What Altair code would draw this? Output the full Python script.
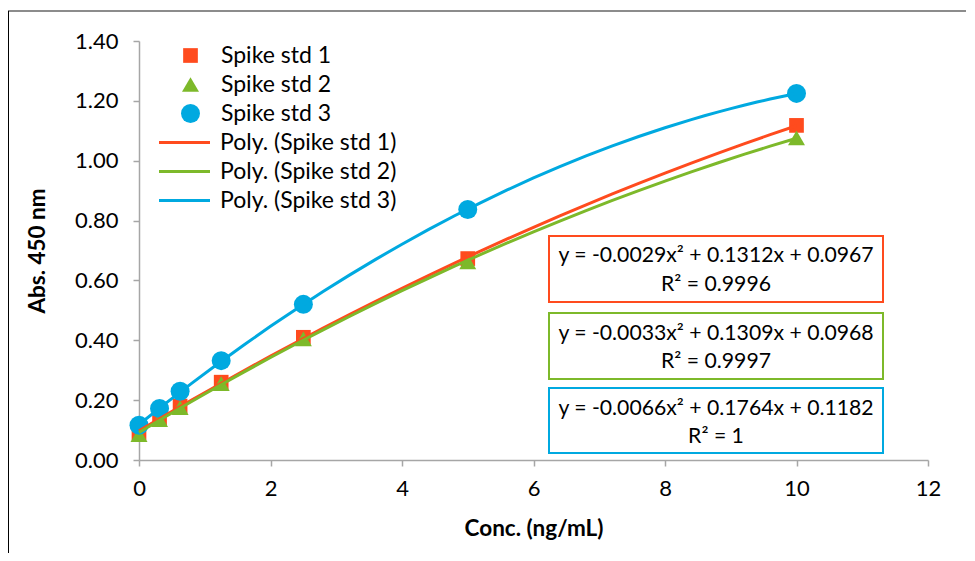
import altair as alt
import pandas as pd

conc = [0, 0.3125, 0.625, 1.25, 2.5, 5, 10]
std1 = [0.090, 0.140, 0.180, 0.260, 0.410, 0.673, 1.118]
std2 = [0.085, 0.135, 0.175, 0.255, 0.405, 0.662, 1.076]
std3 = [0.116, 0.172, 0.230, 0.332, 0.520, 0.837, 1.225]

series = ["Spike std 1", "Spike std 2", "Spike std 3"]
polys = ["Poly. (Spike std 1)", "Poly. (Spike std 2)", "Poly. (Spike std 3)"]
colors = ["#FF4B1E", "#7DB92A", "#00A9E0"]
shapes = ["square", "triangle-up", "circle"]
sizes = [216, 361, 400]

equations = [
    "y = -0.0029x² + 0.1312x + 0.0967",
    "y = -0.0033x² + 0.1309x + 0.0968",
    "y = -0.0066x² + 0.1764x + 0.1182",
]
r2_texts = ["R² = 0.9996", "R² = 0.9997", "R² = 1"]

x_ticks = [0, 2, 4, 6, 8, 10, 12]
y_ticks = [0, 0.2, 0.4, 0.6, 0.8, 1.0, 1.2, 1.4]

rows = []
for s, vals in zip(series, [std1, std2, std3]):
    for c, v in zip(conc, vals):
        rows.append({"series": s, "conc": c, "abs": v})
df = pd.DataFrame(rows)

FONT = "Lato"

xenc = alt.X("conc:Q", scale=alt.Scale(domain=[0, 12], nice=False),
             axis=alt.Axis(values=x_ticks, format="d", title="Conc. (ng/mL)", grid=False,
                           labelFlush=False, labelPadding=12, titlePadding=18))
yenc = alt.Y("abs:Q", scale=alt.Scale(domain=[0, 1.4], nice=False),
             axis=alt.Axis(values=y_ticks, format=".2f", title="Abs. 450 nm", grid=False,
                           labelFlush=False, labelPadding=15, titlePadding=25))

point_legend = alt.Legend(title=None, orient="none", legendX=40, legendY=3,
                          symbolSize=225, labelOffset=19, rowPadding=5,
                          symbolStrokeWidth=0, labelLimit=400)

points = alt.Chart(df).mark_point(filled=True, opacity=1).encode(
    x=xenc,
    y=yenc,
    color=alt.Color("series:N", scale=alt.Scale(domain=series, range=colors), legend=point_legend),
    shape=alt.Shape("series:N", scale=alt.Scale(domain=series, range=shapes), legend=point_legend),
    size=alt.Size("series:N", scale=alt.Scale(domain=series, range=sizes), legend=None),
)

# long horizontal stroke drawn by a custom path at a small nominal symbol size
line_symbol = "M-3.4,0H3.4"

lines = alt.Chart(df).transform_regression(
    "conc", "abs", groupby=["series"], method="poly", order=2, extent=[0, 10]
).transform_calculate(
    poly="'Poly. (' + datum.series + ')'"
).mark_line(strokeWidth=3).encode(
    x=alt.X("conc:Q"),
    y=alt.Y("abs:Q"),
    color=alt.Color("poly:N", scale=alt.Scale(domain=polys, range=colors),
                    legend=alt.Legend(title=None, orient="none", legendX=34, legendY=90,
                                      symbolType=line_symbol, symbolSize=225, labelLimit=400,
                                      symbolStrokeWidth=3, labelOffset=24, rowPadding=5)),
    detail="series:N",
)

box_y = [(195, 261), (272, 338), (347, 412)]
text_y = [(215, 244), (293, 321), (368, 396)]

eq_layers = []
for i in range(3):
    d = pd.DataFrame({"eq": [equations[i]], "r2": [r2_texts[i]]})
    base = alt.Chart(d)
    eq_layers.append(base.mark_rect(fill="white", stroke=colors[i], strokeWidth=2).encode(
        x=alt.value(410), x2=alt.value(744), y=alt.value(box_y[i][0]), y2=alt.value(box_y[i][1])))
    eq_layers.append(base.mark_text(font=FONT, fontSize=21.2, align="center", baseline="middle",
                                    color="black").encode(
        x=alt.value(577), y=alt.value(text_y[i][0]), text="eq:N"))
    eq_layers.append(base.mark_text(font=FONT, fontSize=21.2, align="center", baseline="middle",
                                    color="black").encode(
        x=alt.value(577), y=alt.value(text_y[i][1]), text="r2:N"))

frame_data = alt.Data(values=[{"k": 1}])
frame_top = alt.Chart(frame_data).mark_rule(color="#8C8C8C", strokeWidth=2).encode(
    x=alt.value(-131), x2=alt.value(830), y=alt.value(-30))
frame_left = alt.Chart(frame_data).mark_rule(color="#000000", strokeWidth=1).encode(
    x=alt.value(-130.5), y=alt.value(-30), y2=alt.value(520))

chart = alt.layer(
    frame_top, frame_left, *eq_layers, points, lines
).resolve_scale(
    color="independent", shape="independent", size="independent"
).properties(
    width=789, height=419,
    padding={"left": 131, "top": 33, "right": 38, "bottom": 93},
    autosize="none",
).configure_view(
    stroke="transparent"
).configure_axis(
    domainColor="#A6A6A6", tickColor="#A6A6A6", domainWidth=1.5, tickWidth=1.5, tickSize=6,
    labelFont=FONT, labelFontSize=22, labelColor="black",
    titleFont=FONT, titleFontSize=22.5, titleFontWeight="bold", titleColor="black",
).configure_legend(
    labelFont=FONT, labelFontSize=23, labelColor="black", padding=0, symbolOpacity=1,
)

chart.save("out.html", embed_options={"renderer": "svg", "actions": False})
